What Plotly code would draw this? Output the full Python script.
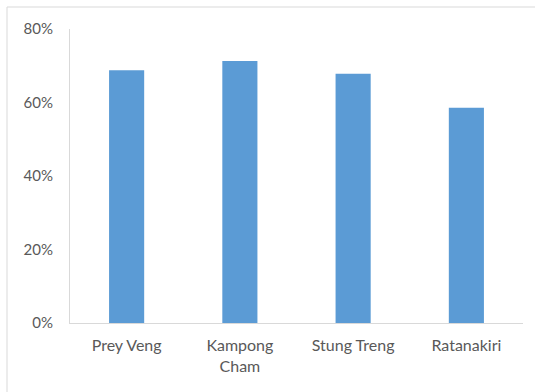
import plotly.graph_objects as go

categories = ["Prey Veng", "Kampong<br>Cham", "Stung Treng", "Ratanakiri"]
values = [0.688, 0.713, 0.678, 0.586]
y_ticks = [0, 0.2, 0.4, 0.6, 0.8]
y_tick_labels = ["0%", "20%", "40%", "60%", "80%"]

W, H = 535, 392
ml, mr, mt, mb = 70, 12, 29, 69
pw, ph = W - ml - mr, H - mt - mb

fig = go.Figure(go.Bar(
    x=categories, y=values,
    marker=dict(color="#5b9bd5", line=dict(width=0)),
    width=0.31,
))

fig.update_layout(
    width=W, height=H,
    margin=dict(l=ml, r=mr, t=mt, b=mb),
    paper_bgcolor="white", plot_bgcolor="white",
    showlegend=False,
    font=dict(family="Lato, 'Open Sans', sans-serif", size=15, color="#595959"),
    xaxis=dict(
        showgrid=False, showline=True, linecolor="#d9d9d9", linewidth=1,
        ticks="", tickfont=dict(size=16, color="#595959"), ticklabelstandoff=8,
    ),
    yaxis=dict(
        range=[0, 0.8], tickvals=y_ticks, ticktext=y_tick_labels,
        showgrid=False, showline=True, linecolor="#d9d9d9", linewidth=1,
        ticks="", zeroline=False, tickfont=dict(size=15, color="#595959"),
        ticklabelstandoff=13,
    ),
    shapes=[dict(
        type="rect", xref="paper", yref="paper",
        x0=(7 - ml) / pw, x1=(W + 10 - ml) / pw,
        y0=-(H + 10 - mt - ph) / ph, y1=(H - mb - 7) / ph,
        line=dict(color="#d9d9d9", width=1), fillcolor="rgba(0,0,0,0)",
        layer="below",
    )],
)

fig.write_html("out.html")
